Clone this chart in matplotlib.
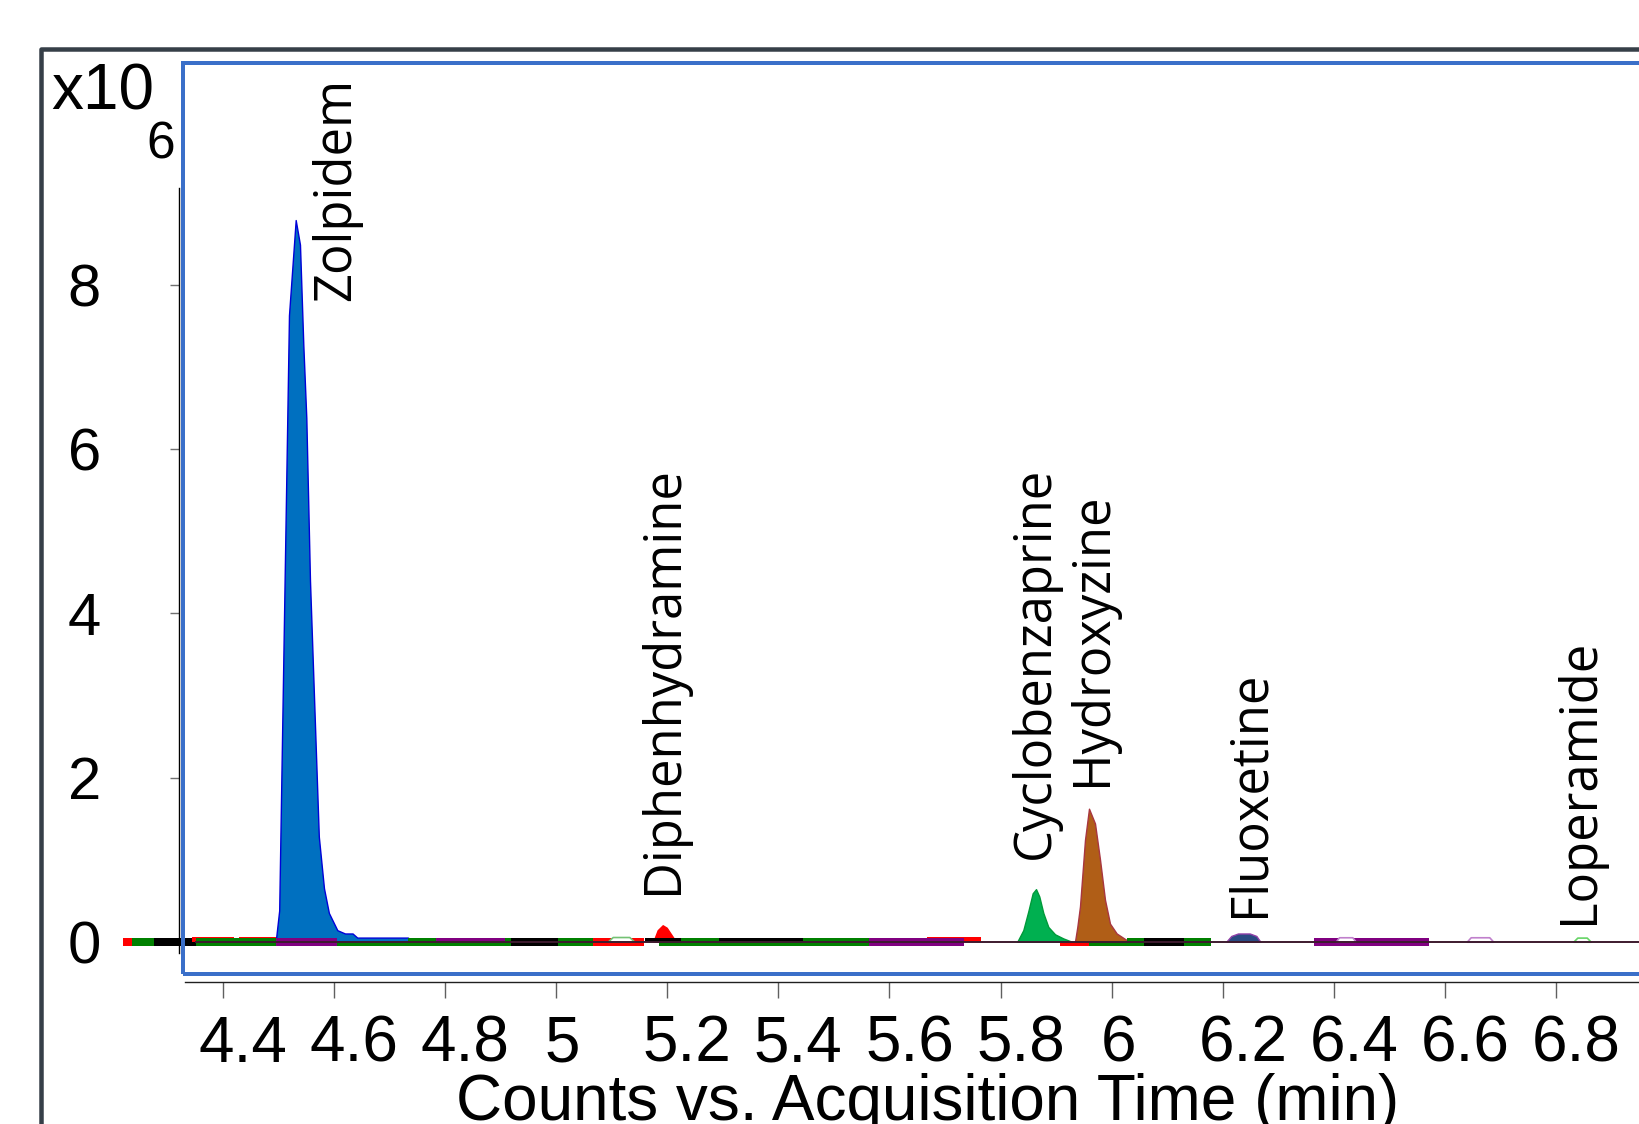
import matplotlib
matplotlib.use("Agg")
import matplotlib.pyplot as plt
from matplotlib.patches import Rectangle
from matplotlib.transforms import blended_transform_factory

plt.rcParams["font.family"] = ["Liberation Sans", "DejaVu Sans"]

# ---------------- data (times in min, intensities in counts x10^6) ----------------
x_ticks = [4.4, 4.6, 4.8, 5.0, 5.2, 5.4, 5.6, 5.8, 6.0, 6.2, 6.4, 6.6, 6.8]
x_tick_labels = ["4.4", "4.6", "4.8", "5", "5.2", "5.4", "5.6", "5.8", "6", "6.2", "6.4", "6.6", "6.8"]
y_ticks = [0, 2, 4, 6, 8]
y_tick_labels = ["0", "2", "4", "6", "8"]

zolpidem_t = [4.4957, 4.5020, 4.5196, 4.5317, 4.5394, 4.5454, 4.5508, 4.5574, 4.5733,
              4.5826, 4.5914, 4.6066, 4.6204, 4.6340, 4.6424, 4.7337, 4.7408]
zolpidem_v = [0.00, 0.38, 7.63, 8.79, 8.49, 7.27, 6.38, 4.40, 1.28,
              0.65, 0.35, 0.14, 0.10, 0.10, 0.05, 0.05, 0.00]

diphen_t = [5.1751, 5.1830, 5.1920, 5.1992, 5.2159]
diphen_v = [0.00, 0.14, 0.20, 0.17, 0.00]

cyclo_t = [5.8300, 5.8408, 5.8498, 5.8577, 5.8637, 5.8696, 5.8768, 5.8858, 5.8979, 5.9128, 5.9279]
cyclo_v = [0.00, 0.14, 0.37, 0.59, 0.64, 0.55, 0.35, 0.18, 0.09, 0.04, 0.00]

hydroxy_t = [5.9338, 5.9380, 5.9428, 5.9518, 5.9590, 5.9698, 5.9788, 5.9878, 5.9968, 6.0088, 6.0268, 6.0328]
hydroxy_v = [0.00, 0.18, 0.43, 1.24, 1.62, 1.44, 1.00, 0.51, 0.22, 0.10, 0.02, 0.00]

fluox_t = [6.2060, 6.2150, 6.2271, 6.2482, 6.2601, 6.2673]
fluox_v = [0.00, 0.07, 0.10, 0.10, 0.07, 0.00]

# small unfilled (white) peaks: (times, values, outline colour)
small_peaks = [
    ([5.0930, 5.1021, 5.1319, 5.1409], [0.0, 0.057, 0.057, 0.0], "#74c274"),
    ([6.4029, 6.4088, 6.4328, 6.4389], [0.0, 0.054, 0.054, 0.0], "#c080cc"),
    ([6.6386, 6.6458, 6.6792, 6.6864], [0.0, 0.054, 0.054, 0.0], "#c080cc"),
    ([6.8304, 6.8376, 6.8546, 6.8617], [0.0, 0.050, 0.050, 0.0], "#66d466"),
]

# baseline segments of the other traces: (start, end, colour, band)
segments = [
    (4.2210, 4.2366, "#ff0000", "full"),
    (4.2366, 4.2768, "#008000", "full"),
    (4.2768, 4.3523, "#000000", "full"),
    (4.3451, 4.4207, "#ff0000", "high"),
    (4.4297, 4.4957, "#ff0000", "high"),
    (4.3523, 4.4957, "#008000", "full"),
    (4.4957, 4.6060, "#800080", "full"),
    (4.6060, 4.7337, "#008000", "lower"),
    (4.7337, 4.9191, "#008000", "full"),
    (4.7841, 4.9083, "#800080", "upper"),
    (4.9191, 5.0036, "#000000", "full"),
    (5.0036, 5.0671, "#008000", "full"),
    (5.0671, 5.1584, "#ff0000", "full"),
    (5.1602, 5.2249, "#000000", "upper"),
    (5.1859, 5.2249, "#008000", "lower"),
    (5.2249, 5.5632, "#008000", "full"),
    (5.2928, 5.4444, "#000000", "upper"),
    (5.6676, 5.7647, "#ff0000", "high"),
    (5.5632, 5.7341, "#800080", "full"),
    (5.9069, 5.9590, "#ff0000", "lower"),
    (5.9590, 6.0274, "#008000", "lower"),
    (6.0274, 6.0580, "#008000", "full"),
    (6.0580, 6.1300, "#000000", "full"),
    (6.1300, 6.1786, "#008000", "full"),
    (6.3639, 6.5708, "#800080", "full"),
]
baseline_start = 4.35

compound_names = ["Zolpidem", "Diphenhydramine", "Cyclobenzaprine", "Hydroxyzine", "Fluoxetine", "Loperamide"]
label_t = [4.6050, 5.1926, 5.8630, 5.9645, 6.2485, 6.8412]
label_v = [7.80, 0.585, 1.007, 1.896, 0.30, 0.21]

# ---------------- figure / layout ----------------
W, H, DPI = 1639, 1124, 100
fig = plt.figure(figsize=(W / DPI, H / DPI), dpi=DPI)
PT = 72.0 / DPI  # points per pixel

ax_l, ax_r, ax_t, ax_b = 178.7, 1800.0, 188.0, 953.0
ax = fig.add_axes([ax_l / W, 1 - ax_b / H, (ax_r - ax_l) / W, (ax_b - ax_t) / H])
ax.patch.set_visible(False)

px_per_min = 555.8
t_at_px = lambda px: 4.4 + (px - 222.5) / px_per_min
ax.set_xlim(t_at_px(ax_l), t_at_px(ax_r))
ax.set_ylim((941.7 - ax_b) / 82.1, (941.7 - ax_t) / 82.1)

band = {"full": (-0.049, 0.045), "upper": (0.0, 0.045), "lower": (-0.049, 0.0), "high": (0.0, 0.057)}

# main peaks
peak_styles = [
    (zolpidem_t, zolpidem_v, "#0070c0", "#0000d8"),
    (diphen_t, diphen_v, "#ff0000", "#ff0000"),
    (cyclo_t, cyclo_v, "#00b050", "#009a3a"),
    (hydroxy_t, hydroxy_v, "#b05e17", "#a83640"),
    (fluox_t, fluox_v, "#2a4a82", "#9040a8"),
]
for t, v, fc, ec in peak_styles:
    ax.fill_between(t, v, 0, facecolor=fc, edgecolor=ec, linewidth=1.0, zorder=2)

for t0, t1, col, b in segments:
    lo, hi = band[b]
    ax.fill_between([t0, t1], [lo, lo], [hi, hi], facecolor=col, edgecolor="none",
                    linewidth=0, zorder=3, clip_on=False)

for t, v, ec in small_peaks:
    ax.fill_between(t, v, 0, facecolor="white", edgecolor=ec, linewidth=1.2, zorder=4)

ax.hlines(0, baseline_start, ax.get_xlim()[1], color="#3d1a2e", linewidth=1.4, zorder=5)

for name, t, v in zip(compound_names, label_t, label_v):
    ax.text(t, v, name, rotation=90, ha="center", va="bottom", fontsize=36.5,
            family=["Open Sans", "DejaVu Sans"], color="black", zorder=6)

# axes styling
for s in ("top", "right"):
    ax.spines[s].set_visible(False)
ax.spines["left"].set_linewidth(1.0)
ax.spines["left"].set_color("black")
ax.spines["bottom"].set_position(("outward", (982 - ax_b) * PT))
ax.spines["bottom"].set_linewidth(1.0)
ax.spines["bottom"].set_color("#202020")
ax.spines["bottom"].set_bounds(t_at_px(185), ax.get_xlim()[1])

ax.set_xticks(x_ticks)
ax.tick_params(axis="x", direction="out", length=16 * PT, width=1.0, color="#606060",
               labelbottom=False)
ax.set_yticks(y_ticks)
ax.set_yticklabels(y_tick_labels)
ax.tick_params(axis="y", direction="out", length=8.7 * PT, width=1.0, color="#707070",
               labelsize=43, pad=69 * PT)

blend = blended_transform_factory(ax.transData, ax.transAxes)
for t, lab in zip(x_ticks, x_tick_labels):
    off = 6.5 if len(lab) == 1 else 20.0
    ax.annotate(lab, xy=(t, 0), xycoords=blend, xytext=(off * PT, -(1015 - ax_b) * PT),
                textcoords="offset points", ha="center", va="top", fontsize=46,
                annotation_clip=False)

fig.text(927.7 / W, 1 - 1073 / H, "Counts vs. Acquisition Time (min)", ha="center", va="top",
         fontsize=46)

# multiplier
fig.text(51 / W, 1 - 110 / H, "x10", ha="left", va="baseline", fontsize=46)
fig.text(146 / W, 1 - 158.3 / H, "6", ha="left", va="baseline", fontsize=37)

# outer frame and selection box
frame = Rectangle((41 / W, 1 - 1400 / H), (2200 - 41) / W, (1400 - 49) / H, transform=fig.transFigure,
                  fill=False, edgecolor="#363f48", linewidth=4.5 * PT, joinstyle="round", zorder=10)
fig.add_artist(frame)
box = Rectangle((182.5 / W, 1 - 974 / H), (2200 - 182.5) / W, (974 - 63) / H, transform=fig.transFigure,
                fill=False, edgecolor="#3a6fc9", linewidth=4 * PT, zorder=11)
fig.add_artist(box)

fig.savefig("out.png", dpi=DPI)
